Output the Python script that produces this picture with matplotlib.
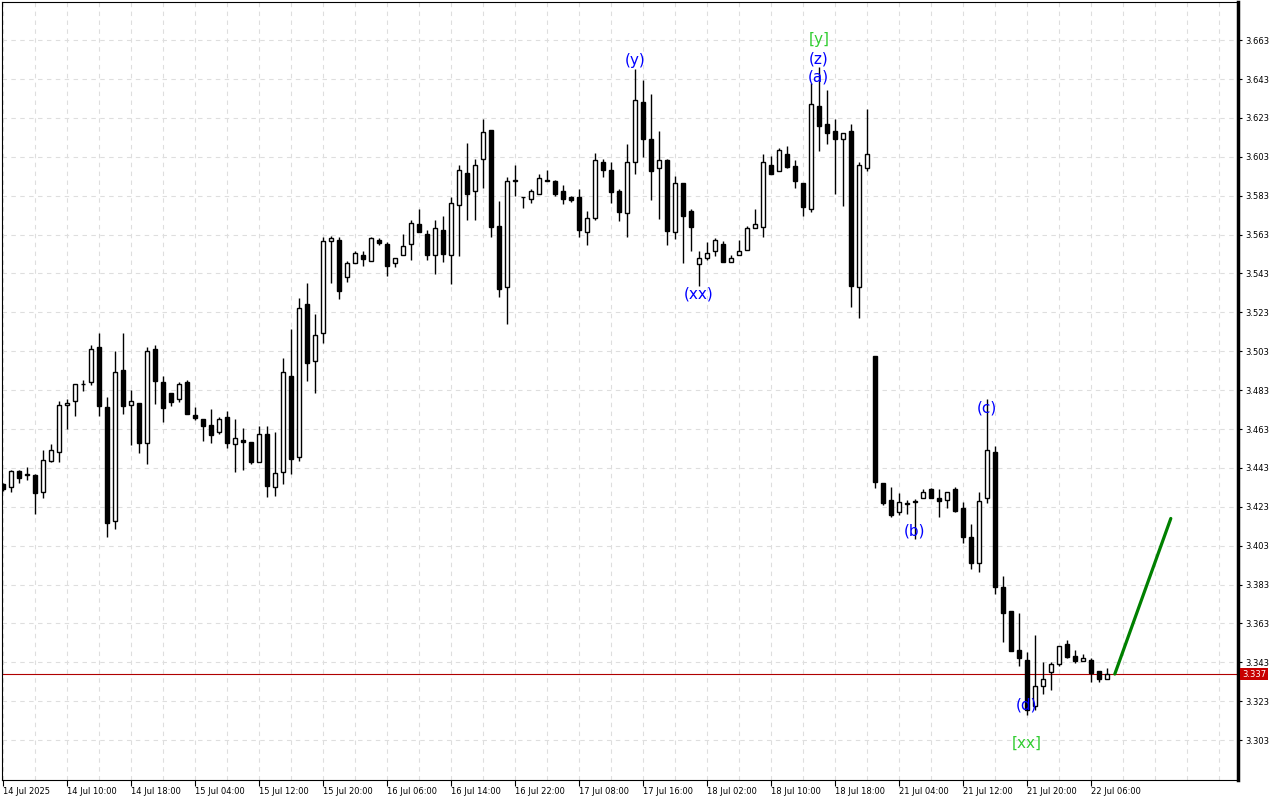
import numpy as np
import matplotlib
matplotlib.use('Agg')
import matplotlib.pyplot as plt

# H1 candles, 14 Jul 2025 .. 22 Jul 2025
opens = [
    3.4346, 3.4330, 3.4414, 3.4394, 3.4394, 3.4308, 3.4465, 3.4510, 3.4752, 3.4772,
    3.4861, 3.4870, 3.5051, 3.4741, 3.4159, 3.4933, 3.4752, 3.4764, 3.4560, 3.5041,
    3.4872, 3.4815, 3.4783, 3.4872, 3.4702, 3.4681, 3.4651, 3.4613, 3.4692, 3.4551,
    3.4572, 3.4562, 3.4462, 3.4603, 3.4330, 3.4410, 3.4901, 3.4488, 3.5272, 3.4981,
    3.5122, 3.5598, 3.5600, 3.5410, 3.5482, 3.5523, 3.5492, 3.5600, 3.5579, 3.5482,
    3.5523, 3.5579, 3.5682, 3.5631, 3.5523, 3.5651, 3.5523, 3.5780, 3.5949, 3.5852,
    3.6021, 3.6170, 3.5672, 3.5361, 3.5908, 3.5821, 3.5811, 3.5841, 3.5908, 3.5905,
    3.5853, 3.5821, 3.5821, 3.5641, 3.5713, 3.6001, 3.5960, 3.5853, 3.5739, 3.6001,
    3.6311, 3.6122, 3.5970, 3.6013, 3.5641, 3.5894, 3.5750, 3.5480, 3.5512, 3.5545,
    3.5581, 3.5490, 3.5523, 3.5550, 3.5662, 3.5670, 3.5990, 3.5958, 3.6042, 3.5982,
    3.5894, 3.5759, 3.6290, 3.6201, 3.6162, 3.6119, 3.6162, 3.5361, 3.5970, 3.5005,
    3.4351, 3.4265, 3.4202, 3.4244, 3.4256, 3.4274, 3.4320, 3.4275, 3.4265, 3.4320,
    3.4222, 3.4073, 3.3940, 3.4274, 3.4510, 3.3819, 3.3694, 3.3494, 3.3443, 3.3203,
    3.3310, 3.3382, 3.3420, 3.3523, 3.3463, 3.3439, 3.3443, 3.3386, 3.3343,
]
highs = [
    3.4352, 3.4419, 3.4419, 3.4435, 3.4399, 3.4522, 3.4553, 3.4774, 3.4784, 3.4861,
    3.4882, 3.5062, 3.5122, 3.4793, 3.5029, 3.5122, 3.4830, 3.4764, 3.5050, 3.5062,
    3.4902, 3.4815, 3.4872, 3.4882, 3.4741, 3.4681, 3.4733, 3.4692, 3.4722, 3.4681,
    3.4635, 3.4562, 3.4645, 3.4645, 3.4613, 3.4993, 3.5142, 3.5302, 3.5380, 3.5221,
    3.5615, 3.5622, 3.5615, 3.5495, 3.5546, 3.5546, 3.5620, 3.5610, 3.5590, 3.5512,
    3.5631, 3.5703, 3.5762, 3.5653, 3.5703, 3.5723, 3.5822, 3.5990, 3.6100, 3.6021,
    3.6222, 3.6170, 3.5802, 3.5927, 3.5990, 3.5822, 3.5864, 3.5941, 3.5960, 3.5910,
    3.5884, 3.5829, 3.5864, 3.5750, 3.6052, 3.6021, 3.6001, 3.5864, 3.6098, 3.6479,
    3.6424, 3.6352, 3.6162, 3.6021, 3.5930, 3.5894, 3.5759, 3.5546, 3.5591, 3.5610,
    3.5598, 3.5524, 3.5601, 3.5675, 3.5759, 3.6042, 3.6033, 3.6076, 3.6088, 3.6016,
    3.5894, 3.6407, 3.6492, 3.6372, 3.6222, 3.6150, 3.6201, 3.6004, 3.6278, 3.5005,
    3.4351, 3.4333, 3.4299, 3.4265, 3.4269, 3.4322, 3.4327, 3.4322, 3.4308, 3.4333,
    3.4256, 3.4140, 3.4308, 3.4783, 3.4543, 3.3874, 3.3694, 3.3682, 3.3484, 3.3571,
    3.3432, 3.3432, 3.3515, 3.3545, 3.3494, 3.3473, 3.3451, 3.3386, 3.3400,
]
lows = [
    3.4311, 3.4308, 3.4351, 3.4368, 3.4191, 3.4274, 3.4462, 3.4462, 3.4631, 3.4698,
    3.4827, 3.4856, 3.4698, 3.4073, 3.4117, 3.4707, 3.4548, 3.4508, 3.4452, 3.4760,
    3.4667, 3.4750, 3.4770, 3.4709, 3.4678, 3.4570, 3.4560, 3.4604, 3.4531, 3.4410,
    3.4421, 3.4452, 3.4462, 3.4282, 3.4287, 3.4349, 3.4400, 3.4467, 3.4878, 3.4813,
    3.5070, 3.5379, 3.5300, 3.5387, 3.5482, 3.5469, 3.5492, 3.5577, 3.5418, 3.5461,
    3.5523, 3.5500, 3.5641, 3.5500, 3.5428, 3.5490, 3.5377, 3.5521, 3.5703, 3.5703,
    3.5870, 3.5620, 3.5310, 3.5171, 3.5829, 3.5767, 3.5790, 3.5841, 3.5906, 3.5829,
    3.5786, 3.5798, 3.5620, 3.5577, 3.5703, 3.5927, 3.5790, 3.5702, 3.5618, 3.5939,
    3.6030, 3.5807, 3.5709, 3.5577, 3.5608, 3.5482, 3.5546, 3.5367, 3.5500, 3.5521,
    3.5490, 3.5490, 3.5523, 3.5550, 3.5662, 3.5618, 3.5940, 3.5958, 3.5970, 3.5867,
    3.5726, 3.5747, 3.6060, 3.6095, 3.5838, 3.5776, 3.5259, 3.5199, 3.5958, 3.4328,
    3.4239, 3.4179, 3.4189, 3.4193, 3.4063, 3.4274, 3.4274, 3.4179, 3.4222, 3.4203,
    3.4042, 3.3912, 3.3893, 3.4251, 3.3782, 3.3534, 3.3490, 3.3412, 3.3160, 3.3186,
    3.3268, 3.3288, 3.3412, 3.3451, 3.3429, 3.3439, 3.3331, 3.3331, 3.3343,
]
closes = [
    3.4320, 3.4413, 3.4380, 3.4396, 3.4299, 3.4469, 3.4520, 3.4752, 3.4762, 3.4860,
    3.4863, 3.5040, 3.4750, 3.4148, 3.4921, 3.4750, 3.4772, 3.4560, 3.5029, 3.4878,
    3.4739, 3.4770, 3.4860, 3.4709, 3.4688, 3.4647, 3.4601, 3.4681, 3.4560, 3.4582,
    3.4562, 3.4462, 3.4603, 3.4339, 3.4402, 3.4921, 3.4477, 3.5250, 3.4971, 3.5112,
    3.5598, 3.5610, 3.5341, 3.5482, 3.5533, 3.5502, 3.5610, 3.5588, 3.5469, 3.5512,
    3.5569, 3.5692, 3.5641, 3.5523, 3.5662, 3.5531, 3.5790, 3.5960, 3.5839, 3.5990,
    3.6160, 3.5670, 3.5351, 3.5903, 3.5910, 3.5822, 3.5853, 3.5919, 3.5906, 3.5841,
    3.5811, 3.5809, 3.5651, 3.5713, 3.6011, 3.5960, 3.5850, 3.5747, 3.6001, 3.6322,
    3.6119, 3.5958, 3.6013, 3.5649, 3.5893, 3.5726, 3.5670, 3.5512, 3.5533, 3.5601,
    3.5490, 3.5512, 3.5545, 3.5662, 3.5684, 3.6001, 3.5944, 3.6064, 3.5978, 3.5906,
    3.5770, 3.6299, 3.6189, 3.6150, 3.6119, 3.6150, 3.5367, 3.5990, 3.6042, 3.4359,
    3.4251, 3.4188, 3.4253, 3.4246, 3.4258, 3.4308, 3.4274, 3.4261, 3.4308, 3.4210,
    3.4073, 3.3940, 3.4261, 3.4522, 3.3819, 3.3683, 3.3490, 3.3451, 3.3186, 3.3310,
    3.3343, 3.3422, 3.3515, 3.3459, 3.3439, 3.3451, 3.3374, 3.3343, 3.3370,
]

current_price = 3.337

# time labels, one every 8 bars
time_labels = ['14 Jul 2025', '14 Jul 10:00', '14 Jul 18:00', '15 Jul 04:00',
               '15 Jul 12:00', '15 Jul 20:00', '16 Jul 06:00', '16 Jul 14:00',
               '16 Jul 22:00', '17 Jul 08:00', '17 Jul 16:00', '18 Jul 02:00',
               '18 Jul 10:00', '18 Jul 18:00', '21 Jul 04:00', '21 Jul 12:00',
               '21 Jul 20:00', '22 Jul 06:00']
price_ticks = [3.303, 3.323, 3.343, 3.363, 3.383, 3.403, 3.423, 3.443, 3.463,
               3.483, 3.503, 3.523, 3.543, 3.563, 3.583, 3.603, 3.623, 3.643, 3.663]

# wave marks: bar index, text, colour, anchored at high/low, offset in pixels
wave_bars = [79, 102, 102, 102, 87, 114, 123, 128, 128]
wave_text = ['(y)', '[y]', '(z)', '(a)', '(xx)', '(b)', '(c)', '(d)', '[xx]']
wave_level = ['high', 'high', 'high', 'high', 'low', 'low', 'high', 'low', 'low']
wave_offset = [9, 27, 8, -10, -8, 8, -9, 10, -28]
wave_color = ['blue', 'limegreen', 'blue', 'blue', 'blue', 'blue', 'blue', 'blue', 'limegreen']

# projected move
proj_x = [139, 146]
proj_y = [3.337, 3.417]

o = np.array(opens)
h = np.array(highs)
l = np.array(lows)
c = np.array(closes)
x = np.arange(len(o))

fig = plt.figure(figsize=(12.8, 8), dpi=100)
ax = fig.add_axes([2 / 1280, 20 / 800, 1236 / 1280, 778 / 800])

# grid
for p in price_ticks:
    ax.axhline(p, color='#dedede', lw=0.8, ls=(0, (4, 4)), zorder=0)
for k in range(0, 156, 4):
    ax.axvline(k, color='#dedede', lw=0.8, ls=(0, (4, 4)), zorder=0)

# current price line
ax.axhline(current_price, color='#b00000', lw=0.8, zorder=1)

# candles
up = c > o
ax.vlines(x, l, h, color='black', linewidth=1.0, zorder=2)
body_bottom = np.minimum(o, c)
body_h = np.maximum(np.abs(c - o), 0.0003)
ax.bar(x[up], body_h[up], bottom=body_bottom[up], width=0.5,
       facecolor='white', edgecolor='black', linewidth=1.0, zorder=3)
ax.bar(x[~up], body_h[~up], bottom=body_bottom[~up], width=0.5,
       facecolor='black', edgecolor='black', linewidth=1.0, zorder=3)

# projection
ax.plot(proj_x, proj_y, color='#008000', lw=2.3, zorder=4, solid_capstyle='round')

# wave labels
for k, txt, lev, off, col in zip(wave_bars, wave_text, wave_level, wave_offset, wave_color):
    yv = h[k] if lev == 'high' else l[k]
    ax.annotate(txt, xy=(k, yv), xytext=(0, off), textcoords='offset pixels',
                ha='center', va='center', fontsize=11, color=col, zorder=5)

ax.set_xlim(-0.1, 154.4)
ax.set_ylim(3.2825, 3.6826)

# price axis on the right
ax.yaxis.tick_right()
ax.set_yticks(price_ticks)
ax.set_yticklabels(['%.3f' % p for p in price_ticks])
ax.tick_params(axis='y', direction='out', length=3, width=0.8, pad=2, labelsize=6)

ax.set_xticks(range(0, 8 * len(time_labels), 8))
ax.set_xticklabels(time_labels)
ax.tick_params(axis='x', direction='out', length=4, width=0.8, pad=1, labelsize=6)
for t in ax.get_xticklabels():
    t.set_ha('left')

for s in ax.spines.values():
    s.set_linewidth(0.8)
ax.spines['right'].set_linewidth(2.5)

# current price tag
ax.annotate('3.337', xy=(1, current_price), xycoords=('axes fraction', 'data'),
            xytext=(4, 0), textcoords='offset pixels', ha='left', va='center',
            fontsize=6, color='white', annotation_clip=False,
            bbox=dict(boxstyle='square,pad=0.2', fc='#c80000', ec='none'))

fig.savefig('out.png', dpi=100)
